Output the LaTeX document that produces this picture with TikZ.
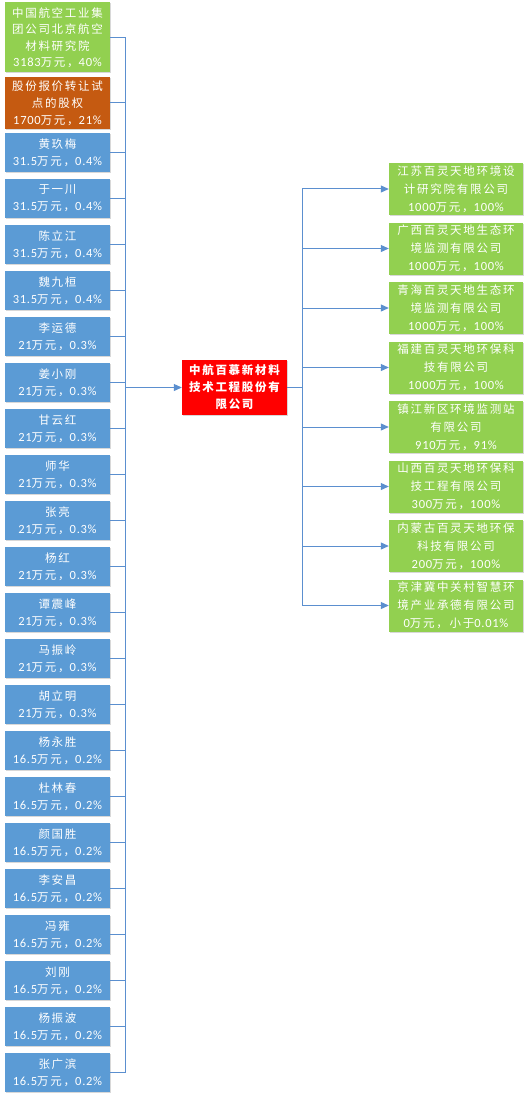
\documentclass[tikz,border=0pt]{standalone}
\usepackage{fontspec}
\setmainfont[LetterSpace=15]{Noto Sans CJK SC}
\newfontfamily\lat[LetterSpace=6]{Carlito}
\usepackage{xcolor}
\usepackage{tikz}
\usetikzlibrary{shadows}
\usetikzlibrary{positioning}
\usetikzlibrary{arrows.meta,calc}
\definecolor{boxgreen}{HTML}{92D050}
\definecolor{boxorange}{HTML}{C55A11}
\definecolor{boxblue}{HTML}{5B9BD5}
\definecolor{linkblue}{HTML}{5B8FCF}
\tikzstyle{holder}=[rectangle,text=white,align=center,inner sep=0pt,font=\fontsize{11.5}{17}\selectfont,drop shadow={shadow xshift=1pt,shadow yshift=-1pt,opacity=0.3}]
\tikzstyle{person}=[holder,fill=boxblue,minimum width=105pt,minimum height=39pt]
\tikzstyle{firm}=[holder,fill=boxgreen,minimum width=134pt,minimum height=52pt,font=\fontsize{11.5}{18}\selectfont]
\tikzstyle{link}=[draw,line width=1pt,linkblue]
\tikzstyle{arrowlink}=[link,-{Triangle[length=8pt,width=7pt]}]
\newcommand{\amt}[2]{{\lat\fontsize{12.5}{17}\selectfont #1}万元，{\lat\fontsize{12.5}{17}\selectfont #2}}

\begin{document}
\begin{tikzpicture}[x=1pt,y=-1pt]

 \fill[white] (0,0) rectangle (532,1102);
 \useasboundingbox (0,0) rectangle (532,1102);

 %Shareholders
  \def\dx{57.5};
  \def\dy{152.5};
 \def\u{46};

 \node[holder,fill=boxgreen,minimum width=105pt,minimum height=70pt,font=\fontsize{11.5}{16.5}\selectfont] (caac) at (\dx, 37.5) {中国航空工业集\\团公司北京航空\\材料研究院\\\amt{3183}{40\%}};
 \node[holder,fill=boxorange,minimum width=105pt,minimum height=52pt] (share) at (\dx, 103) {股份报价转让试\\点的股权\\\amt{1700}{21\%}};

   \foreach \i/\label in {0/黄玖梅, 1/于一川, 2/陈立江, 3/魏九桓}
          \node[person] (P\i) at (\dx, \i*\u + \dy) {\label\\\amt{31.5}{0.4\%}};

   \foreach \i/\label in {4/李运德, 5/姜小刚, 6/甘云红, 7/师华, 8/张亮, 9/杨红, 10/谭震峰, 11/马振岭, 12/胡立明}
          \node[person] (P\i) at (\dx, \i*\u + \dy) {\label\\\amt{21}{0.3\%}};

   \foreach \i/\label in {13/杨永胜, 14/杜林春, 15/颜国胜, 16/李安昌, 17/冯雍, 18/刘刚, 19/杨振波, 20/张广滨}
          \node[person] (P\i) at (\dx, \i*\u + \dy) {\label\\\amt{16.5}{0.2\%}};

 %Company
 \node[holder,fill=red,minimum width=105pt,minimum height=55pt,font=\bfseries\fontsize{11.5}{17}\selectfont] (zh) at (234.5, 387.5) {中航百慕新材料\\技术工程股份有\\限公司};

 %Subsidiaries
  \def\dx{456};
  \def\dy{189};
 \def\u{59.5};

   \foreach \j/\label in {1/{江苏百灵天地环境设\\计研究院有限公司\\\amt{1000}{100\%}},
                          2/{广西百灵天地生态环\\境监测有限公司\\\amt{1000}{100\%}},
                          3/{青海百灵天地生态环\\境监测有限公司\\\amt{1000}{100\%}},
                          4/{福建百灵天地环保科\\技有限公司\\\amt{1000}{100\%}},
                          5/{镇江新区环境监测站\\有限公司\\\amt{910}{91\%}},
                          6/{山西百灵天地环保科\\技工程有限公司\\\amt{300}{100\%}},
                          7/{内蒙古百灵天地环保\\科技有限公司\\\amt{200}{100\%}},
                          8/{京津冀中关村智慧环\\境产业承德有限公司\\{\lat\fontsize{12.5}{17}\selectfont 0}万元，小于{\lat\fontsize{12.5}{17}\selectfont 0.01\%}}}
          \node[firm] (S\j) at (\dx, \j*\u - \u + \dy) {\label};

 %Links
 \coordinate (busL) at (125,0);
 \coordinate (busR) at (302,0);

  \foreach \source in {caac, share}
         \path[link] (\source.east) -- (\source.east -| busL);
  \foreach \i in {0,...,20}
         \path[link] (P\i.east) -- (P\i.east -| busL);
  \path[link] (caac.east -| busL) -- (P20.east -| busL);
  \path[arrowlink] (zh.west -| busL) -- (zh.west);

  \path[link] (zh.east) -- (zh.east -| busR);
  \path[link] (S1.west -| busR) -- (S8.west -| busR);
  \foreach \j in {1,...,8}
         \path[arrowlink] (S\j.west -| busR) -- (S\j.west);

\end{tikzpicture}
\end{document}
